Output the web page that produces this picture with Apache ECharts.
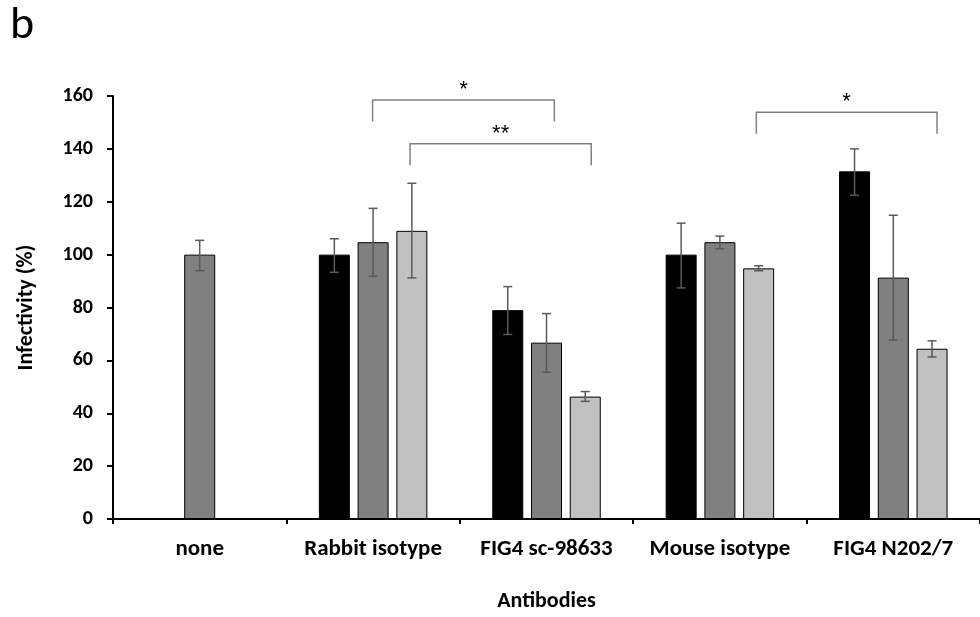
<!DOCTYPE html>
<html><head><meta charset="utf-8">
<script src="https://cdn.jsdelivr.net/npm/echarts@6/dist/echarts.min.js"></script>
<style>html,body{margin:0;padding:0;background:#fff}#c{width:980px;height:617px}</style>
</head><body><div id="c"></div>
<script>
const categories = ['none', 'Rabbit isotype', 'FIG4 sc-98633', 'Mouse isotype', 'FIG4 N202/7'];
const yTicks = [0, 20, 40, 60, 80, 100, 120, 140, 160];
// three groups (black, dark gray, light gray)
const valuesA = ['-', 100, 79, 100, 131.5];
const valuesB = [100, 104.7, 66.7, 104.7, 91.3];
const valuesC = ['-', 109, 46.3, 94.8, 64.4];
const errLowA = [null, 93.3, 69.8, 87.4, 122.5];
const errHighA = [null, 106, 87.9, 111.9, 140];
const errLowB = [93.9, 91.8, 55.5, 102.2, 67.7];
const errHighB = [105.4, 117.5, 77.7, 107, 114.9];
const errLowC = [null, 91.2, 44.5, 93.9, 61.3];
const errHighC = [null, 127, 48.2, 95.8, 67.4];
// significance brackets (x in category units 0..5, y in data units)
const sigLeft = [1.497, 1.713, 3.71];
const sigRight = [2.545, 2.758, 4.752];
const sigTop = [158.5, 141.9, 153.9];
const sigBottom = [150.4, 133.8, 145.7];
const sigLabels = ['*', '**', '*'];

const FONT = "Carlito, 'Liberation Sans Narrow', 'Open Sans', sans-serif";
const chart = echarts.init(document.getElementById('c'), null, {renderer: 'canvas'});

const BAR_W = 31, STEP = 38.75;
function errData(lo, hi) {
  const d = [];
  for (let i = 0; i < lo.length; i++) if (lo[i] != null) d.push([i, lo[i], hi[i]]);
  return d;
}
function errSeries(lo, hi, off) {
  return {
    type: 'custom', xAxisIndex: 0, yAxisIndex: 0, z: 5,
    data: errData(lo, hi), encode: {x: 0, y: [1, 2]},
    renderItem: function (params, api) {
      const p1 = api.coord([api.value(0), api.value(1)]);
      const p2 = api.coord([api.value(0), api.value(2)]);
      const x = p1[0] + off, h = 4.5;
      const st = {stroke: '#5a5a5a', lineWidth: 1.5, fill: null};
      return {type: 'group', children: [
        {type: 'line', shape: {x1: x, y1: p1[1], x2: x, y2: p2[1]}, style: st},
        {type: 'line', shape: {x1: x - h, y1: p1[1], x2: x + h, y2: p1[1]}, style: st},
        {type: 'line', shape: {x1: x - h, y1: p2[1], x2: x + h, y2: p2[1]}, style: st}
      ]};
    }
  };
}
const sigData = sigLeft.map((v, i) => [v, sigRight[i], sigTop[i], sigBottom[i], i]);

chart.setOption({
  animation: false,
  backgroundColor: '#fff',
  grid: {left: 113, right: -8, top: 96, bottom: 94, containLabel: false},
  graphic: [{type: 'text', left: 10, top: 3, style: {text: 'b', font: "46px " + FONT, fill: '#000'}}],
  xAxis: [{
    type: 'category', data: categories,
    axisLine: {lineStyle: {color: '#000', width: 2}},
    axisTick: {show: true, length: 5, interval: 0, lineStyle: {color: '#000', width: 2}},
    axisLabel: {interval: 0, margin: 19, fontSize: 23, fontWeight: 'bold', color: '#000', fontFamily: FONT},
    name: 'Antibodies', nameLocation: 'middle', nameGap: 71,
    nameTextStyle: {fontSize: 22, fontWeight: 'bold', color: '#000', fontFamily: FONT}
  }, {
    type: 'value', min: 0, max: 5, show: false
  }],
  yAxis: {
    type: 'value', min: 0, max: 160, interval: 20,
    splitLine: {show: false},
    axisLine: {show: true, lineStyle: {color: '#000', width: 2}},
    axisTick: {show: true, length: 6, lineStyle: {color: '#000', width: 2}},
    axisLabel: {margin: 20, fontSize: 20, fontWeight: 'bold', color: '#000', fontFamily: FONT,
      formatter: v => yTicks.indexOf(v) >= 0 ? String(v) : ''},
    name: 'Infectivity (%)', nameLocation: 'middle', nameGap: 76, nameRotate: 90,
    nameTextStyle: {fontSize: 22, fontWeight: 'bold', color: '#000', fontFamily: FONT}
  },
  series: [
    {type: 'bar', data: valuesA, barWidth: BAR_W, barGap: '25%',
      itemStyle: {color: '#000000', borderColor: '#000', borderWidth: 1}},
    {type: 'bar', data: valuesB, barWidth: BAR_W, barGap: '25%',
      itemStyle: {color: '#808080', borderColor: '#000', borderWidth: 1}},
    {type: 'bar', data: valuesC, barWidth: BAR_W, barGap: '25%',
      itemStyle: {color: '#c0c0c0', borderColor: '#000', borderWidth: 1}},
    errSeries(errLowA, errHighA, -STEP),
    errSeries(errLowB, errHighB, 0),
    errSeries(errLowC, errHighC, STEP),
    {
      type: 'custom', xAxisIndex: 1, yAxisIndex: 0, z: 6, data: sigData,
      encode: {x: [0, 1], y: [2, 3]},
      renderItem: function (params, api) {
        const a = api.coord([api.value(0), api.value(2)]);
        const b = api.coord([api.value(1), api.value(3)]);
        const st = {stroke: '#808080', lineWidth: 1.5, fill: null};
        return {type: 'group', children: [
          {type: 'polyline', shape: {points: [[a[0], b[1]], [a[0], a[1]], [b[0], a[1]], [b[0], b[1]]]}, style: st},
          {type: 'text', x: (a[0] + b[0]) / 2, y: a[1] - 10,
            style: {text: sigLabels[api.value(4)], font: "22px 'Liberation Sans', sans-serif", fill: '#000',
              textAlign: 'center', textVerticalAlign: 'middle'}}
        ]};
      }
    }
  ]
});
</script></body></html>
